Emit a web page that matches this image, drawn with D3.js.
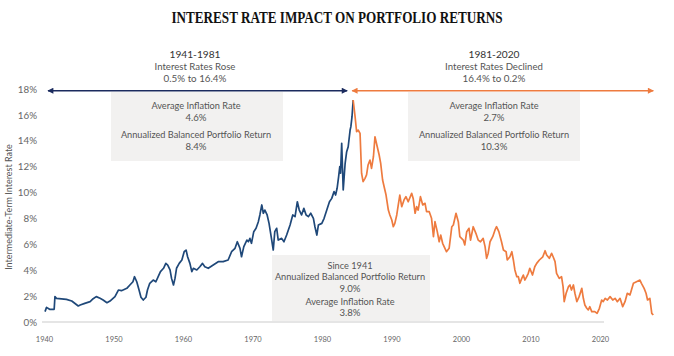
<!DOCTYPE html>
<html><head><meta charset="utf-8">
<script src="https://cdn.jsdelivr.net/npm/d3@7/dist/d3.min.js"></script>
<style>
html,body{margin:0;padding:0;background:#fff;}
svg{display:block;font-family:Lato,"Open Sans",sans-serif;}
</style></head>
<body>
<svg id="chart" width="674" height="356"></svg>
<script>
const title = "INTEREST RATE IMPACT ON PORTFOLIO RETURNS";
const yAxisTitle = "Intermediate-Term Interest Rate";
const yTicks = [0, 2, 4, 6, 8, 10, 12, 14, 16, 18];
const xTickLabels = ["1940","1950","1960","1970","1980","1990","2000","2010","2020"];

// 1941-1981 (rising rates)
const blueYears = [1941.0,1941.2,1941.6,1942.2,1942.3,1942.5,1943.8,1944.5,1945.35,1945.6,1946.2,1946.9,1947.3,1947.7,1948.2,1948.6,1949.1,1949.5,1950.15,1950.6,1951.0,1951.7,1952.1,1952.5,1952.7,1953.0,1953.3,1953.55,1953.85,1954.2,1954.4,1954.7,1955.15,1955.5,1955.8,1956.1,1956.5,1956.8,1957.05,1957.35,1957.55,1957.8,1958.0,1958.2,1958.55,1958.9,1959.2,1959.45,1959.65,1959.95,1960.2,1960.4,1960.85,1961.25,1961.6,1961.9,1962.35,1963.0,1963.65,1964.3,1964.95,1965.4,1965.85,1966.15,1966.5,1966.7,1967.0,1967.4,1967.6,1967.8,1968.0,1968.3,1968.6,1968.9,1969.1,1969.35,1969.55,1969.75,1970.05,1970.3,1970.65,1970.85,1971.05,1971.3,1971.5,1971.95,1972.25,1972.6,1973.05,1973.4,1973.7,1974.0,1974.25,1974.55,1974.85,1975.15,1975.45,1975.75,1976.1,1976.3,1976.55,1976.75,1977.2,1977.5,1977.85,1978.2,1978.5,1978.8,1979.0,1979.2,1979.4,1979.55,1979.65,1979.8,1980.0,1980.25,1980.45,1980.65,1980.9,1981.0,1981.15,1981.3];
const blueRates = [0.80,1.13,0.98,0.98,1.96,1.83,1.75,1.62,1.24,1.31,1.44,1.57,1.80,1.96,1.83,1.70,1.49,1.62,1.96,2.47,2.42,2.60,2.86,3.11,3.50,3.11,2.47,1.91,1.70,1.91,2.47,2.99,3.24,3.11,3.50,3.89,4.15,4.53,4.40,4.02,3.37,2.86,3.37,4.15,4.53,4.79,5.43,5.56,5.04,4.53,3.89,4.15,4.02,4.27,4.53,4.27,4.15,4.40,4.66,4.66,4.79,5.43,5.69,6.20,5.69,5.04,5.82,6.33,6.20,6.46,6.08,6.98,7.24,7.75,8.27,9.04,8.40,8.65,8.27,7.62,6.33,5.56,6.98,7.24,6.33,6.46,6.20,6.72,7.49,8.27,8.14,9.29,8.65,8.27,8.78,8.27,8.14,8.40,8.01,7.36,6.72,7.49,7.62,8.01,8.65,9.29,9.55,10.07,9.81,10.33,11.23,12.00,11.49,13.80,10.20,12.26,13.16,13.54,14.83,15.09,15.86,17.15];

// 1981-2020 (declining rates)
const orangeYears = [1981.3,1981.55,1981.75,1981.95,1982.2,1982.4,1982.6,1982.85,1983.05,1983.25,1983.5,1983.7,1983.95,1984.15,1984.3,1984.45,1984.7,1984.9,1985.15,1985.35,1985.6,1985.9,1986.1,1986.35,1986.55,1986.75,1987.0,1987.2,1987.4,1987.65,1987.95,1988.2,1988.5,1988.95,1989.15,1989.4,1989.6,1989.8,1990.1,1990.4,1990.7,1990.9,1991.25,1991.55,1991.8,1992.0,1992.3,1992.55,1992.75,1993.0,1993.3,1993.5,1993.85,1994.2,1994.4,1994.75,1995.05,1995.25,1995.7,1995.9,1996.15,1996.45,1996.65,1997.0,1997.35,1997.65,1997.95,1998.3,1998.55,1998.75,1998.95,1999.2,1999.55,1999.85,2000.05,2000.35,2000.7,2000.95,2001.3,2001.45,2001.8,2002.05,2002.25,2002.45,2002.7,2002.9,2003.1,2003.35,2003.55,2003.75,2004.0,2004.2,2004.4,2004.75,2005.05,2005.3,2005.65,2006.1,2006.4,2006.6,2006.95,2007.25,2007.45,2007.7,2007.9,2008.25,2008.55,2008.75,2008.9,2009.15,2009.45,2009.65,2009.85,2010.1,2010.3,2010.55,2010.85,2011.2,2011.4,2011.6,2011.85,2012.05,2012.25,2012.5,2012.9,2013.2,2013.5,2013.8,2014.0,2014.25,2014.55,2014.9,2015.25,2015.55,2015.85,2016.2,2016.55,2016.85,2017.15,2017.5,2017.95,2018.35,2018.8,2019.0,2019.35,2019.6,2019.8,2020.1,2020.35,2020.55];
const orangeRates = [17.15,15.86,14.70,14.83,14.57,11.49,10.84,11.10,11.36,12.13,12.51,11.87,12.77,14.31,13.93,13.54,12.90,12.26,10.97,10.45,9.81,8.65,8.27,7.88,7.36,7.62,8.27,9.04,9.80,8.91,9.43,9.68,9.29,9.94,9.55,8.40,8.91,8.65,9.68,9.04,9.17,8.52,8.52,8.01,6.59,7.75,6.98,6.20,6.72,6.08,5.69,5.43,5.69,7.36,7.49,8.40,7.75,6.59,6.33,5.95,6.98,7.24,6.33,7.36,6.85,6.33,6.20,6.46,5.82,4.92,5.30,6.20,6.59,7.11,7.36,6.98,6.20,5.56,5.43,4.79,5.04,5.43,4.79,4.02,3.50,3.50,2.99,3.37,3.63,3.24,3.50,3.76,4.15,3.63,4.27,4.53,4.79,5.04,5.51,5.18,4.92,5.30,5.04,4.66,3.76,3.37,3.50,2.73,1.57,2.22,2.73,2.86,2.47,2.86,2.22,1.57,1.96,2.60,1.83,1.31,1.06,0.93,1.18,0.80,0.80,0.67,1.06,1.70,1.57,1.83,1.70,1.96,1.70,1.83,1.57,1.83,1.18,1.57,2.22,2.09,2.99,3.11,3.24,2.99,2.60,2.22,1.70,1.83,0.67,0.54];

const periodHeaders = [
  ["1941-1981", "Interest Rates Rose", "0.5% to 16.4%"],
  ["1981-2020", "Interest Rates Declined", "16.4% to 0.2%"]
];
const periodStats = [
  ["Average Inflation Rate", "4.6%", "Annualized Balanced Portfolio Return", "8.4%"],
  ["Average Inflation Rate", "2.7%", "Annualized Balanced Portfolio Return", "10.3%"]
];
const overallStats = ["Since 1941", "Annualized Balanced Portfolio Return", "9.0%", "Average Inflation Rate", "3.8%"];

const blueColor = "#1f4879", orangeColor = "#ee7b3f";
const arrowBlue = "#1b2b5e";

const svg = d3.select("#chart");
const x = d3.scaleLinear().domain([1941, 2020.55]).range([45, 653.3]);
const y = d3.scaleLinear().domain([0, 18]).range([322, 89]);
const xLab = d3.scalePoint().domain(xTickLabels).range([44, 600]);

// title
svg.append("text").attr("x", 337).attr("y", 23).attr("text-anchor", "middle")
  .attr("font-family", "'Liberation Serif','DejaVu Serif',serif").attr("font-weight", "bold")
  .attr("font-size", 17.5).attr("fill", "#111")
  .attr("textLength", 331).attr("lengthAdjust", "spacingAndGlyphs").text(title);

// gray boxes
const boxes = [[111, 92, 172, 69], [408, 92, 172, 69], [272, 255, 158, 66]];
svg.selectAll("rect.box").data(boxes).join("rect").attr("class", "box")
  .attr("x", d => d[0]).attr("y", d => d[1]).attr("width", d => d[2]).attr("height", d => d[3])
  .attr("fill", "#f2f1f0");

// baseline
svg.append("line").attr("x1", 42).attr("x2", 604).attr("y1", y(0)).attr("y2", y(0))
  .attr("stroke", "#dcdcdc").attr("stroke-width", 1.5);

// y axis
const yAxis = d3.axisLeft(y).tickValues(yTicks).tickFormat(d => d + "%").tickSize(0).tickPadding(0);
const gy = svg.append("g").attr("transform", "translate(37,0)").call(yAxis);
gy.select(".domain").remove();
gy.selectAll("text").attr("font-family", "Lato,sans-serif").attr("font-size", 9.8).attr("fill", "#666");

// x axis labels
const xAxis = d3.axisBottom(xLab).tickSize(0).tickPadding(0);
const gx = svg.append("g").attr("transform", "translate(0,337)").call(xAxis);
gx.select(".domain").remove();
gx.selectAll("text").attr("font-family", "Lato,sans-serif").attr("font-size", 7.5).attr("fill", "#666");

// y axis title
svg.append("text").attr("transform", "translate(12,207) rotate(-90)").attr("text-anchor", "middle")
  .attr("font-size", 9).attr("fill", "#555").text(yAxisTitle);

// lines
const line = d3.line().x(d => x(d[0])).y(d => y(d[1]));
svg.append("path").datum(blueYears.map((v, i) => [v, blueRates[i]]))
  .attr("d", line).attr("fill", "none").attr("stroke", blueColor).attr("stroke-width", 1.7).attr("stroke-linejoin", "round");
svg.append("path").datum(orangeYears.map((v, i) => [v, orangeRates[i]]))
  .attr("d", line).attr("fill", "none").attr("stroke", orangeColor).attr("stroke-width", 1.7).attr("stroke-linejoin", "round");

// arrow markers
const defs = svg.append("defs");
[["ab", arrowBlue], ["ao", orangeColor]].forEach(([id, c]) => {
  defs.append("marker").attr("id", id + "e").attr("viewBox", "0 0 10 10").attr("refX", 9).attr("refY", 5)
    .attr("markerWidth", 7).attr("markerHeight", 6).attr("markerUnits", "userSpaceOnUse").attr("orient", "auto")
    .append("path").attr("d", "M0,0 L10,5 L0,10 z").attr("fill", c);
  defs.append("marker").attr("id", id + "s").attr("viewBox", "0 0 10 10").attr("refX", 1).attr("refY", 5)
    .attr("markerWidth", 7).attr("markerHeight", 6).attr("markerUnits", "userSpaceOnUse").attr("orient", "auto")
    .append("path").attr("d", "M10,0 L0,5 L10,10 z").attr("fill", c);
});
const ay = 90.7;
const bStart = blueYears[0], bEnd = blueYears[blueYears.length - 1];
const oStart = orangeYears[0], oEnd = orangeYears[orangeYears.length - 1];
svg.append("line").attr("x1", x(bStart) + 3).attr("x2", x(bEnd) - 6).attr("y1", ay).attr("y2", ay)
  .attr("stroke", arrowBlue).attr("stroke-width", 1.6)
  .attr("marker-start", "url(#abs)").attr("marker-end", "url(#abe)");
svg.append("line").attr("x1", x(oStart) - 1).attr("x2", x(oEnd)).attr("y1", ay).attr("y2", ay)
  .attr("stroke", orangeColor).attr("stroke-width", 1.6)
  .attr("marker-start", "url(#aos)").attr("marker-end", "url(#aoe)");

// period headers
const headerX = [195, 494];
periodHeaders.forEach((h, i) => {
  const g = svg.append("g").attr("text-anchor", "middle");
  g.append("text").attr("x", headerX[i]).attr("y", 58).attr("font-size", 10.2).attr("fill", "#333").text(h[0]);
  g.append("text").attr("x", headerX[i]).attr("y", 69.5).attr("font-size", 9.6).attr("fill", "#555").text(h[1]);
  g.append("text").attr("x", headerX[i]).attr("y", 81.5).attr("font-size", 9.8).attr("fill", "#555").text(h[2]);
});

// period stats
periodStats.forEach((s, i) => {
  const g = svg.append("g").attr("text-anchor", "middle").attr("fill", "#555");
  const ys = [109, 120.5, 137.5, 149.5];
  s.forEach((t, j) => g.append("text").attr("x", headerX[i] + (i === 0 ? 1 : 0)).attr("y", ys[j])
    .attr("font-size", j % 2 === 0 ? 9.2 : 9.6).text(t));
});

// overall stats
{
  const g = svg.append("g").attr("text-anchor", "middle").attr("fill", "#555");
  const ys = [268.5, 279.5, 291.5, 305, 316];
  overallStats.forEach((t, j) => g.append("text").attr("x", 350).attr("y", ys[j])
    .attr("font-size", (j === 2 || j === 4) ? 9.6 : 9.2).text(t));
}
</script>
</body></html>
